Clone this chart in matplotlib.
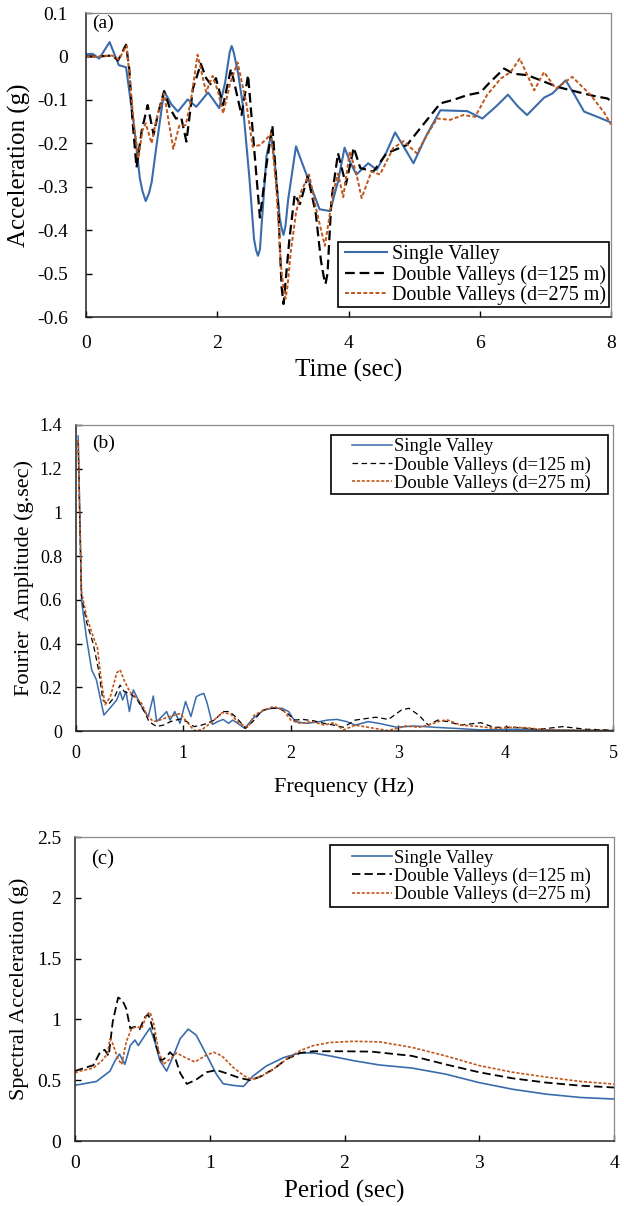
import matplotlib
matplotlib.use("Agg")
import matplotlib.pyplot as plt
from matplotlib.patches import Rectangle

plt.rcParams['font.family'] = ['Liberation Serif', 'DejaVu Serif']
plt.rcParams['lines.scale_dashes'] = False

BLUE = '#3A6BAA'
ORANGE = '#C0561A'
BLACK = '#000000'

labels = ['Single Valley', 'Double Valleys (d=125 m)', 'Double Valleys (d=275 m)']

# ---------------- (a) acceleration time history ----------------
t_single = [0, 0.1, 0.2, 0.36, 0.5, 0.61, 0.73, 0.82, 0.86, 0.91, 0.96, 1.0, 1.07, 1.19, 1.3, 1.40, 1.55,
            1.68, 1.86, 2.03, 2.12, 2.19, 2.22, 2.25, 2.32, 2.39, 2.49, 2.56, 2.59, 2.62, 2.65, 2.68,
            2.75, 2.82, 2.88, 2.95, 2.98, 3.01, 3.04, 3.08, 3.20, 3.28, 3.36, 3.56, 3.72, 3.84, 3.94,
            4.03, 4.12, 4.30, 4.43, 4.58, 4.71, 4.85, 4.99, 5.19, 5.40, 5.81, 6.04, 6.25, 6.43, 6.58,
            6.72, 6.98, 7.11, 7.31, 7.45, 7.59, 7.79, 8.0]
a_single = [0.005, 0.006, -0.005, 0.033, -0.02, -0.025, -0.158, -0.28, -0.31, -0.333, -0.315, -0.29,
            -0.21, -0.08, -0.11, -0.127, -0.099, -0.116, -0.083, -0.119, -0.06, 0.01, 0.024, 0.01,
            -0.04, -0.112, -0.28, -0.42, -0.445, -0.459, -0.445, -0.38, -0.23, -0.18, -0.25, -0.37,
            -0.395, -0.411, -0.39, -0.33, -0.207, -0.24, -0.272, -0.352, -0.356, -0.288, -0.21, -0.245,
            -0.272, -0.246, -0.261, -0.22, -0.175, -0.21, -0.246, -0.181, -0.124, -0.126, -0.143,
            -0.115, -0.088, -0.115, -0.135, -0.095, -0.085, -0.055, -0.09, -0.127, -0.139, -0.152]

t_d125 = [0, 0.2, 0.40, 0.49, 0.61, 0.66, 0.71, 0.77, 0.85, 0.94, 1.03, 1.10, 1.19, 1.28, 1.37, 1.45,
          1.53, 1.63, 1.75, 1.83, 1.91, 1.98, 2.09, 2.21, 2.37, 2.47, 2.57, 2.65, 2.75, 2.84, 2.93,
          2.98, 3.01, 3.04, 3.10, 3.18, 3.26, 3.38, 3.50, 3.58, 3.62, 3.65, 3.68, 3.74, 3.84, 3.96,
          4.08, 4.18, 4.38, 4.58, 4.89, 5.09, 5.40, 5.60, 5.81, 6.01, 6.14, 6.37, 6.52, 6.72, 6.93,
          7.18, 7.44, 7.74, 7.95, 8.0]
a_d125 = [0, 0, 0.002, -0.009, 0.027, -0.03, -0.15, -0.256, -0.17, -0.112, -0.18, -0.13, -0.08, -0.12,
          -0.143, -0.14, -0.196, -0.074, -0.017, -0.05, -0.066, -0.05, -0.112, -0.028, -0.135, -0.043,
          -0.226, -0.371, -0.25, -0.159, -0.35, -0.53, -0.57, -0.52, -0.42, -0.318, -0.34, -0.276,
          -0.36, -0.47, -0.505, -0.524, -0.5, -0.33, -0.223, -0.295, -0.21, -0.257, -0.265, -0.223,
          -0.204, -0.166, -0.108, -0.1, -0.089, -0.083, -0.062, -0.028, -0.04, -0.043, -0.055, -0.07,
          -0.08, -0.091, -0.097, -0.104]

t_d275 = [0, 0.2, 0.40, 0.50, 0.62, 0.68, 0.74, 0.80, 0.86, 0.91, 1.00, 1.08, 1.19, 1.26, 1.33, 1.42,
          1.52, 1.60, 1.70, 1.83, 1.93, 2.01, 2.09, 2.20, 2.31, 2.44, 2.54, 2.65, 2.75, 2.82, 2.90,
          2.97, 3.01, 3.04, 3.07, 3.12, 3.20, 3.28, 3.40, 3.52, 3.64, 3.77, 3.84, 3.92, 4.02, 4.12,
          4.20, 4.35, 4.48, 4.68, 4.84, 5.04, 5.20, 5.35, 5.55, 5.75, 5.93, 6.11, 6.32, 6.47, 6.61,
          6.83, 6.98, 7.16, 7.41, 7.69, 7.90, 8.0]
a_d275 = [0, 0, 0.002, -0.007, 0.025, -0.074, -0.17, -0.234, -0.17, -0.154, -0.2, -0.14, -0.085, -0.15,
          -0.213, -0.16, -0.158, -0.10, 0.004, -0.082, -0.045, -0.08, -0.131, -0.06, -0.014, -0.105,
          -0.208, -0.204, -0.19, -0.177, -0.3, -0.48, -0.535, -0.558, -0.53, -0.45, -0.36, -0.31,
          -0.272, -0.36, -0.436, -0.31, -0.27, -0.324, -0.219, -0.27, -0.326, -0.265, -0.272, -0.211,
          -0.195, -0.223, -0.18, -0.143, -0.146, -0.135, -0.139, -0.089, -0.051, -0.036, -0.005,
          -0.078, -0.036, -0.074, -0.047, -0.089, -0.13, -0.157]

a_yticks = [0.1, 0, -0.1, -0.2, -0.3, -0.4, -0.5, -0.6]
a_yticklabels = ['0.1', '0', '-0.1', '-0.2', '-0.3', '-0.4', '-0.5', '-0.6']
a_xticks = [0, 2, 4, 6, 8]

# ---------------- (b) Fourier amplitude ----------------
f_single = [0.02, 0.053, 0.10, 0.146, 0.19, 0.223, 0.26, 0.317, 0.379, 0.41, 0.434, 0.466, 0.497, 0.534,
            0.58, 0.627, 0.673, 0.72, 0.751, 0.80, 0.844, 0.875, 0.92, 0.968, 1.02, 1.07, 1.12, 1.15,
            1.19, 1.22, 1.27, 1.32, 1.37, 1.42, 1.46, 1.52, 1.57, 1.65, 1.75, 1.83, 1.92, 1.98, 2.04,
            2.15, 2.27, 2.34, 2.43, 2.52, 2.60, 2.72, 2.82, 2.99, 3.15, 3.34, 3.53, 3.77, 4.07, 4.38, 5.0]
fa_single = [1.35, 0.59, 0.418, 0.28, 0.234, 0.157, 0.073, 0.105, 0.142, 0.18, 0.142, 0.18, 0.089, 0.188,
             0.142, 0.096, 0.066, 0.16, 0.043, 0.066, 0.089, 0.05, 0.089, 0.035, 0.135, 0.066, 0.157,
             0.165, 0.172, 0.13, 0.03, 0.043, 0.053, 0.035, 0.05, 0.03, 0.012, 0.058, 0.096, 0.104,
             0.104, 0.089, 0.043, 0.035, 0.043, 0.05, 0.053, 0.043, 0.027, 0.043, 0.035, 0.017, 0.023,
             0.017, 0.012, 0.005, 0.008, 0.005, 0.002]

f_d125 = [0.02, 0.05, 0.10, 0.16, 0.21, 0.25, 0.30, 0.36, 0.41, 0.45, 0.50, 0.56, 0.63, 0.68, 0.75, 0.82,
          0.88, 0.97, 1.03, 1.10, 1.17, 1.22, 1.29, 1.37, 1.43, 1.50, 1.58, 1.66, 1.73, 1.81, 1.89,
          1.96, 2.04, 2.11, 2.21, 2.31, 2.40, 2.49, 2.60, 2.79, 2.91, 3.03, 3.10, 3.19, 3.28, 3.37,
          3.46, 3.58, 3.77, 3.89, 4.07, 4.32, 4.53, 4.75, 5.0]
fa_d125 = [1.33, 0.62, 0.495, 0.40, 0.28, 0.142, 0.12, 0.157, 0.21, 0.18, 0.172, 0.15, 0.096, 0.043, 0.02,
           0.028, 0.043, 0.055, 0.043, 0.02, 0.027, 0.035, 0.05, 0.089, 0.089, 0.058, 0.012, 0.05,
           0.093, 0.104, 0.104, 0.084, 0.05, 0.053, 0.047, 0.035, 0.027, 0.017, 0.05, 0.063, 0.053,
           0.096, 0.104, 0.073, 0.027, 0.05, 0.043, 0.027, 0.038, 0.017, 0.017, 0.008, 0.02, 0.008, 0.004]

f_d275 = [0.02, 0.05, 0.10, 0.17, 0.20, 0.23, 0.27, 0.32, 0.38, 0.41, 0.45, 0.50, 0.55, 0.61, 0.66, 0.72,
          0.78, 0.87, 0.97, 1.03, 1.10, 1.17, 1.27, 1.36, 1.44, 1.52, 1.60, 1.66, 1.75, 1.84, 1.93,
          2.00, 2.09, 2.20, 2.31, 2.40, 2.49, 2.60, 2.72, 2.90, 2.99, 3.07, 3.19, 3.28, 3.40, 3.46,
          3.58, 3.77, 3.89, 4.07, 4.19, 4.38, 5.0]
fa_d275 = [1.33, 0.64, 0.52, 0.418, 0.38, 0.25, 0.12, 0.157, 0.266, 0.28, 0.23, 0.18, 0.157, 0.127, 0.073,
           0.043, 0.05, 0.066, 0.08, 0.043, 0.002, 0.005, 0.043, 0.084, 0.078, 0.035, 0.017, 0.073,
           0.096, 0.112, 0.096, 0.05, 0.035, 0.043, 0.027, 0.038, 0.005, 0.027, 0.017, 0.002, 0.012,
           0.023, 0.017, 0.027, 0.047, 0.05, 0.027, 0.02, 0.012, 0.017, 0.015, 0.005, 0.002]

b_yticks = [0, 0.2, 0.4, 0.6, 0.8, 1.0, 1.2, 1.4]
b_yticklabels = ['0', '0.2', '0.4', '0.6', '0.8', '1', '1.2', '1.4']
b_xticks = [0, 1, 2, 3, 4, 5]

# ---------------- (c) response spectra ----------------
T_single = [0, 0.037, 0.16, 0.21, 0.26, 0.297, 0.33, 0.37, 0.41, 0.445, 0.47, 0.52, 0.557, 0.594, 0.63,
            0.68, 0.73, 0.78, 0.84, 0.90, 0.98, 1.05, 1.10, 1.175, 1.25, 1.32, 1.42, 1.55, 1.67, 1.77,
            1.89, 2.07, 2.26, 2.5, 2.75, 3.0, 3.25, 3.5, 3.75, 4.0]
sa_single = [0.46, 0.465, 0.49, 0.533, 0.575, 0.66, 0.715, 0.63, 0.785, 0.83, 0.785, 0.87, 0.93, 0.81,
             0.66, 0.575, 0.70, 0.84, 0.92, 0.87, 0.70, 0.547, 0.471, 0.457, 0.449, 0.533, 0.617, 0.687,
             0.724, 0.724, 0.70, 0.66, 0.625, 0.60, 0.55, 0.48, 0.425, 0.385, 0.358, 0.345]

T_d125 = [0, 0.037, 0.136, 0.186, 0.22, 0.25, 0.28, 0.32, 0.35, 0.38, 0.41, 0.445, 0.48, 0.52, 0.544,
          0.57, 0.606, 0.64, 0.675, 0.705, 0.742, 0.78, 0.83, 0.90, 0.977, 1.05, 1.126, 1.22, 1.30,
          1.37, 1.47, 1.57, 1.67, 1.77, 1.97, 2.2, 2.5, 2.75, 3.0, 3.25, 3.5, 3.75, 4.0]
sa_d125 = [0.575, 0.589, 0.623, 0.73, 0.75, 0.70, 0.98, 1.18, 1.16, 1.09, 0.926, 0.94, 0.92, 1.02, 1.04,
           0.955, 0.77, 0.66, 0.687, 0.73, 0.687, 0.56, 0.469, 0.505, 0.566, 0.583, 0.556, 0.519, 0.50,
           0.527, 0.589, 0.673, 0.724, 0.738, 0.738, 0.735, 0.70, 0.63, 0.565, 0.515, 0.48, 0.455, 0.44]

T_d275 = [0, 0.037, 0.136, 0.2, 0.24, 0.26, 0.28, 0.32, 0.347, 0.38, 0.42, 0.46, 0.495, 0.532, 0.557,
          0.586, 0.62, 0.655, 0.705, 0.755, 0.816, 0.89, 0.965, 1.03, 1.09, 1.175, 1.25, 1.31, 1.385,
          1.47, 1.57, 1.67, 1.77, 1.89, 2.07, 2.26, 2.5, 2.75, 3.0, 3.25, 3.5, 3.75, 4.0]
sa_d275 = [0.56, 0.575, 0.60, 0.66, 0.715, 0.84, 0.80, 0.673, 0.63, 0.814, 0.926, 0.94, 0.926, 1.04,
           1.06, 0.955, 0.743, 0.63, 0.673, 0.724, 0.687, 0.65, 0.70, 0.73, 0.70, 0.604, 0.539, 0.505,
           0.533, 0.589, 0.673, 0.743, 0.785, 0.81, 0.82, 0.815, 0.77, 0.70, 0.62, 0.565, 0.525, 0.49,
           0.468]

c_yticks = [0, 0.5, 1.0, 1.5, 2.0, 2.5]
c_yticklabels = ['0', '0.5', '1', '1.5', '2', '2.5']
c_xticks = [0, 1, 2, 3, 4]

# ---------------- figure ----------------
W, H = 624, 1206
fig = plt.figure(figsize=(W / 100, H / 100), dpi=100)


def rect(l, r, t, b):
    return [l / W, 1 - b / H, (r - l) / W, (b - t) / H]


def style(ax, tick_fs, pady, padx):
    for s in ['top', 'right']:
        ax.spines[s].set_color('#8a8a8a')
        ax.spines[s].set_linewidth(0.9)
    for s in ['left', 'bottom']:
        ax.spines[s].set_color('#222222')
        ax.spines[s].set_linewidth(1.1)
    ax.tick_params(axis='y', direction='in', length=4, width=1, labelsize=tick_fs, pad=pady)
    ax.tick_params(axis='x', direction='in', length=4, width=1, labelsize=tick_fs, pad=padx)


def legend(ax, fs, hx, cy, hl, htp, box):
    # legend rows anchored by pixel position; frame drawn as separate box (pixel coords)
    x0, x1, y0, y1 = box
    fr = Rectangle((x0 / W, 1 - y1 / H), (x1 - x0) / W, (y1 - y0) / H, transform=fig.transFigure,
                   facecolor='white', edgecolor='black', lw=1.2, zorder=4, clip_on=False)
    ax.add_artist(fr)
    lg = ax.legend(loc='center left', bbox_to_anchor=(hx / W, 1 - cy / H),
                   bbox_transform=fig.transFigure, fontsize=fs, frameon=False, borderpad=0,
                   labelspacing=0.05, handlelength=hl, handletextpad=htp, borderaxespad=0)
    lg.set_zorder(5)
    return lg


# (a)
ax1 = fig.add_axes(rect(86, 611, 13, 317))
ax1.plot(t_single, a_single, color=BLUE, lw=1.5, label=labels[0])
ax1.plot(t_d125, a_d125, color=BLACK, lw=1.6, dashes=(7, 3.5), label=labels[1])
ax1.plot(t_d275, a_d275, color=ORANGE, lw=1.4, dashes=(2.8, 1.6), label=labels[2])
ax1.set_xlim(0, 8)
ax1.set_ylim(-0.6, 0.1)
ax1.set_yticks(a_yticks)
ax1.set_yticklabels(a_yticklabels)
ax1.set_xticks(a_xticks)
style(ax1, 14, 13, 13)
ax1.set_xlabel('Time (sec)', fontsize=18, labelpad=5)
ax1.set_ylabel('Acceleration (g)', fontsize=18, labelpad=4)
ax1.text(0.012, 0.965, '(a)', transform=ax1.transAxes, fontsize=14, va='center', ha='left')
legend(ax1, 14.5, 345, 275.0, 2.1, 0.22, (338, 609, 242, 307))

# (b)
ax2 = fig.add_axes(rect(76, 613, 425, 731))
ax2.plot(f_single, fa_single, color=BLUE, lw=1.1, label=labels[0])
ax2.plot(f_d125, fa_d125, color=BLACK, lw=0.9, dashes=(4, 2.5), label=labels[1])
ax2.plot(f_d275, fa_d275, color=ORANGE, lw=1.2, dashes=(2.2, 1.3), label=labels[2])
ax2.set_xlim(0, 5)
ax2.set_ylim(0, 1.4)
ax2.set_yticks(b_yticks)
ax2.set_yticklabels(b_yticklabels)
ax2.set_xticks(b_xticks)
style(ax2, 13, 10, 10)
ax2.set_xlabel('Frequency (Hz)', fontsize=16, labelpad=11)
ax2.set_ylabel('Fourier  Amplitude (g.sec)', fontsize=16, labelpad=4)
ax2.text(0.03, 0.94, '(b)', transform=ax2.transAxes, fontsize=14, va='center', ha='left')
legend(ax2, 13.3, 352, 465, 2.15, 0.15, (331, 608, 435, 494))

# (c)
ax3 = fig.add_axes(rect(75, 614, 837, 1141))
ax3.plot(T_single, sa_single, color=BLUE, lw=1.2, label=labels[0])
ax3.plot(T_d125, sa_d125, color=BLACK, lw=1.3, dashes=(6, 3), label=labels[1])
ax3.plot(T_d275, sa_d275, color=ORANGE, lw=1.2, dashes=(2.2, 1.3), label=labels[2])
ax3.set_xlim(0, 4)
ax3.set_ylim(0, 2.5)
ax3.set_yticks(c_yticks)
ax3.set_yticklabels(c_yticklabels)
ax3.set_xticks(c_xticks)
style(ax3, 14, 10, 10)
ax3.set_xlabel('Period (sec)', fontsize=18, labelpad=6)
ax3.set_ylabel('Spectral Acceleration (g)', fontsize=16, labelpad=6)
ax3.text(0.03, 0.925, '(c)', transform=ax3.transAxes, fontsize=15, va='center', ha='left')
legend(ax3, 13.3, 352, 876.5, 2.15, 0.15, (330, 608, 845, 907))

fig.savefig('out.png', dpi=100)
